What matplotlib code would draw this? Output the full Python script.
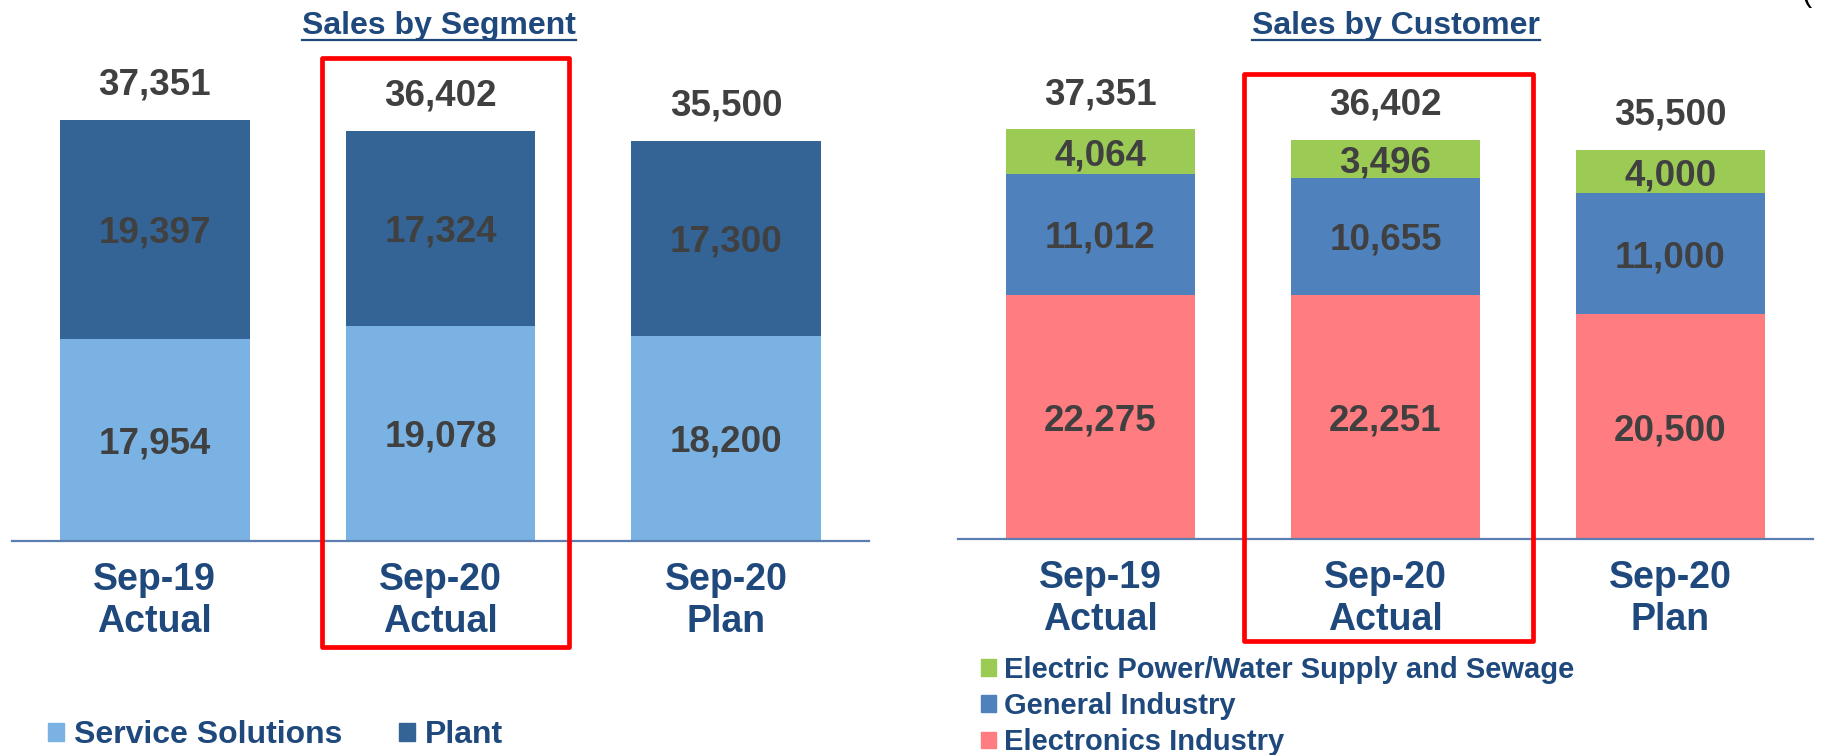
import matplotlib
matplotlib.use("Agg")
import matplotlib.pyplot as plt
from matplotlib.patches import Patch, Rectangle
from matplotlib.lines import Line2D

plt.rcParams['font.family'] = ['Liberation Sans', 'DejaVu Sans']
plt.rcParams['font.weight'] = 'bold'

# ---- data ----
periods = ["Sep-19\nActual", "Sep-20\nActual", "Sep-20\nPlan"]
seg_service = [17954, 19078, 18200]
seg_plant = [19397, 17324, 17300]
seg_totals = [37351, 36402, 35500]
cust_electronics = [22275, 22251, 20500]
cust_general = [11012, 10655, 11000]
cust_power = [4064, 3496, 4000]
cust_totals = [37351, 36402, 35500]

C_SERVICE = '#7AB3E3'
C_PLANT = '#336495'
C_ELEC = '#FF7C80'
C_GEN = '#4F81BD'
C_POW = '#9BCB55'
C_VAL = '#404040'
C_NAVY = '#1F497D'
C_AXIS = '#5A7FB0'

W, H = 1821, 755
fig = plt.figure(figsize=(W / 100, H / 100), dpi=100)

axL = fig.add_axes([12 / W, (H - 541) / H, 857 / W, 450.9 / H])
axR = fig.add_axes([958 / W, (H - 539) / H, 855 / W, 438.8 / H])

x = list(range(len(periods)))
bw = 0.665
VAL_FS = 26.5


def fmt(v):
    return f"{v:,}"


def style_axis(ax):
    ax.set_xlim(-0.5, 2.5)
    ax.set_ylim(0, 40000)
    for s in ['left', 'right', 'top']:
        ax.spines[s].set_visible(False)
    ax.spines['bottom'].set_color(C_AXIS)
    ax.spines['bottom'].set_linewidth(1.6)
    ax.set_yticks([])
    ax.set_xticks(x, labels=periods)
    ax.tick_params(axis='x', length=0, pad=15, labelsize=27, labelcolor=C_NAVY)
    for lab in ax.get_xticklabels():
        lab.set_linespacing(1.22)
        lab.set_fontweight('bold')


def stack(ax, series, colors):
    bottom = [0] * len(x)
    for vals, col in zip(series, colors):
        bars = ax.bar(x, vals, bw, bottom=bottom, color=col, edgecolor='none', zorder=2)
        for b, v, b0 in zip(bars, vals, bottom):
            ax.text(b.get_x() + b.get_width() / 2, b0 + v / 2, fmt(v), ha='center',
                    va='center_baseline', fontsize=VAL_FS, color=C_VAL, fontweight='bold',
                    zorder=3)
        bottom = [b0 + v for b0, v in zip(bottom, vals)]
    return bottom


# left chart
topL = stack(axL, [seg_service, seg_plant], [C_SERVICE, C_PLANT])
for xi, t, tot in zip(x, topL, seg_totals):
    axL.annotate(fmt(tot), (xi, t), xytext=(0, 27.7), textcoords='offset points', ha='center',
                 va='center_baseline', fontsize=VAL_FS, color=C_VAL, fontweight='bold',
                 annotation_clip=False)
style_axis(axL)

# right chart
topR = stack(axR, [cust_electronics, cust_general, cust_power], [C_ELEC, C_GEN, C_POW])
for xi, t, tot in zip(x, topR, cust_totals):
    axR.annotate(fmt(tot), (xi, t), xytext=(0, 27.5), textcoords='offset points', ha='center',
                 va='center_baseline', fontsize=VAL_FS, color=C_VAL, fontweight='bold',
                 annotation_clip=False)
style_axis(axR)

# titles with underline
renderer = fig.canvas.get_renderer()
for tx, label in [(439, 'Sales by Segment'), (1396, 'Sales by Customer')]:
    t = fig.text(tx / W, 1 - 26 / H, label, ha='center', va='center', fontsize=23,
                 color=C_NAVY, fontweight='bold')
    bb = t.get_window_extent(renderer=renderer)
    fig.add_artist(Line2D([bb.x0 / W, bb.x1 / W], [1 - 40 / H, 1 - 40 / H],
                          transform=fig.transFigure, color=C_NAVY, lw=1.6))

# red highlight boxes
for (x0, y0, x1, y1) in [(322, 58, 569, 647), (1244, 74, 1533, 641)]:
    fig.add_artist(Rectangle((x0 / W, 1 - y1 / H), (x1 - x0) / W, (y1 - y0) / H,
                             transform=fig.transFigure, fill=False, edgecolor='#FF0000',
                             linewidth=3.4, joinstyle='round', zorder=10))

# legends
propL = {'family': 'Liberation Sans', 'weight': 'bold', 'size': 23}
legL = fig.legend(handles=[Patch(color=C_SERVICE, label='Service Solutions'),
                           Patch(color=C_PLANT, label='Plant')],
                  ncol=2, loc='center left', bbox_to_anchor=(48 / W, 1 - 735 / H),
                  frameon=False, prop=propL, labelcolor=C_NAVY, handlelength=0.5,
                  handleheight=0.5, handletextpad=0.3, columnspacing=1.8,
                  borderpad=0, borderaxespad=0)

propR = {'family': 'Liberation Sans', 'weight': 'bold', 'size': 21}
legR = fig.legend(handles=[Patch(color=C_POW, label='Electric Power/Water Supply and Sewage'),
                           Patch(color=C_GEN, label='General Industry'),
                           Patch(color=C_ELEC, label='Electronics Industry')],
                  ncol=1, loc='center left', bbox_to_anchor=(981 / W, 1 - 706 / H),
                  frameon=False, prop=propR, labelcolor=C_NAVY, handlelength=0.5,
                  handleheight=0.5, handletextpad=0.3, labelspacing=0.28,
                  borderpad=0, borderaxespad=0)

# partially visible character at the top-right edge (as in the reference)
fig.text(1806 / W, 1 - 1 / H, '(', ha='center', va='baseline', fontsize=22, color='black',
         fontweight='normal')

fig.savefig('out.png', dpi=100)
